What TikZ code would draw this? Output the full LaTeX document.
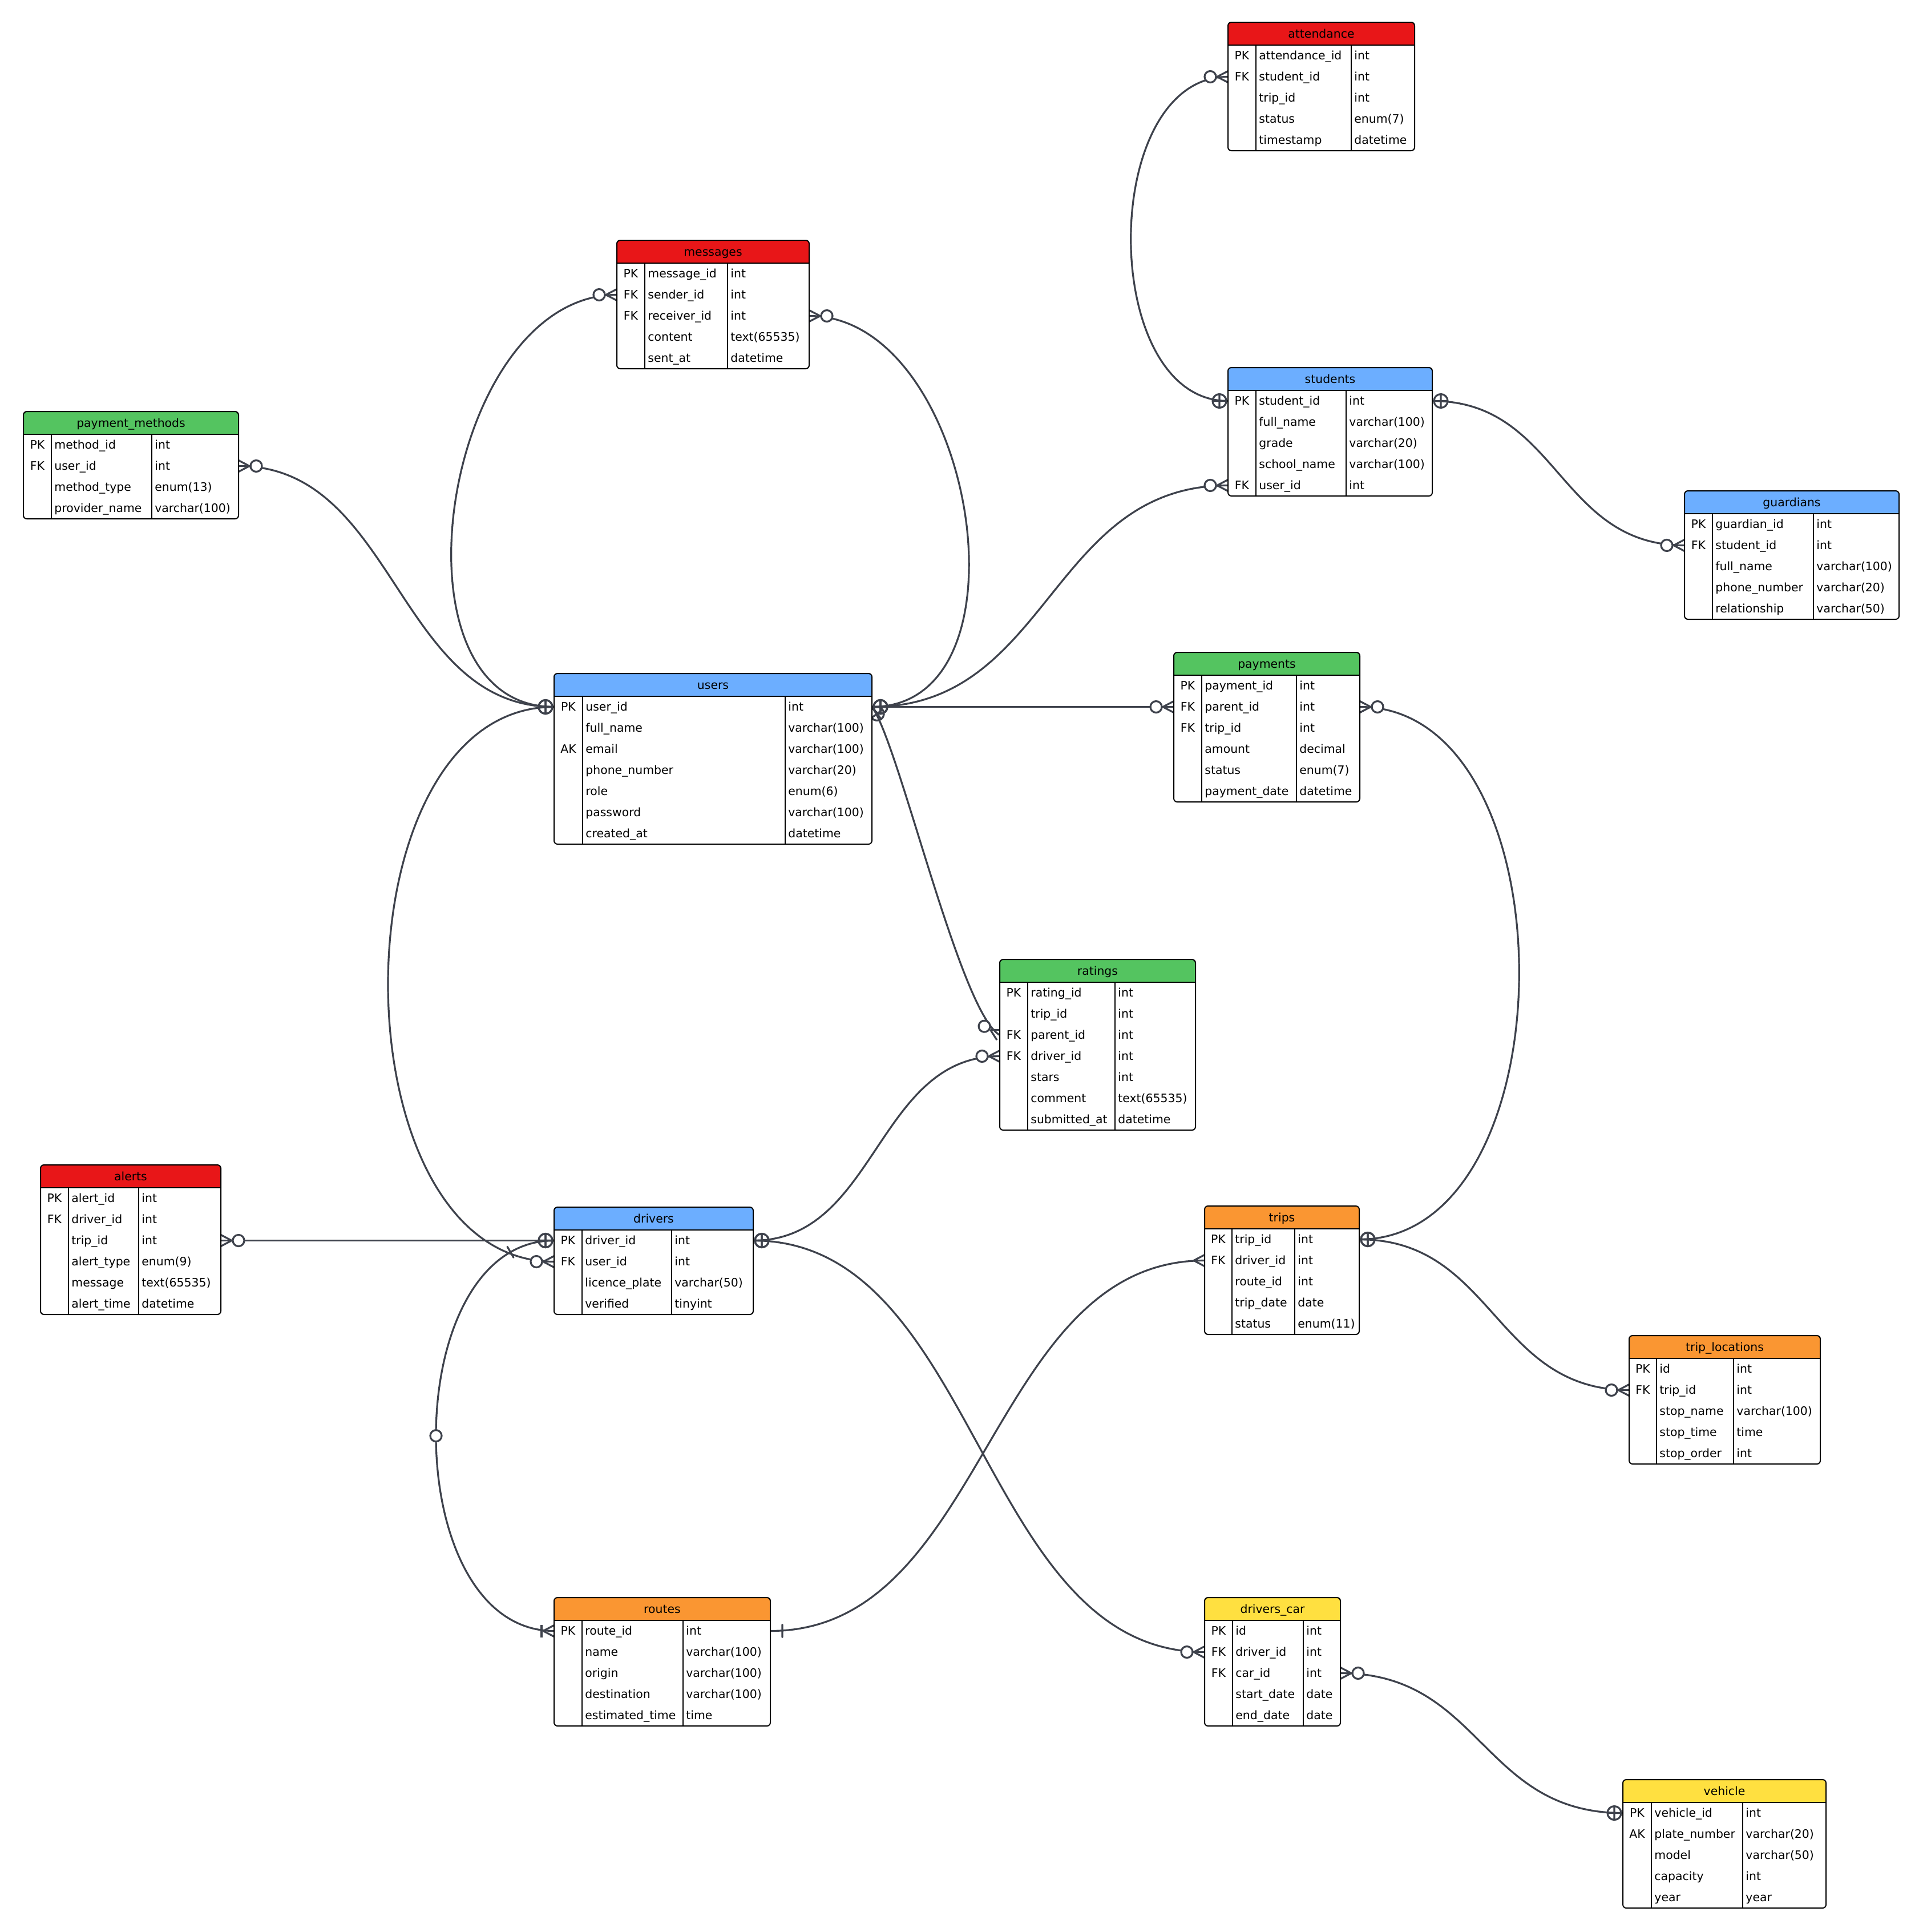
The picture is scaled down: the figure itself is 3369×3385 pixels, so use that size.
\documentclass[tikz,border=0pt]{standalone}
\usepackage{fontspec}
\setmainfont{DejaVu Sans}
\usetikzlibrary{decorations.markings}
\definecolor{lc}{RGB}{62,66,76}
\definecolor{hblue}{RGB}{108,174,255}
\definecolor{hred}{RGB}{232,22,24}
\definecolor{hgreen}{RGB}{84,196,96}
\definecolor{horange}{RGB}{250,150,50}
\definecolor{hyellow}{RGB}{255,224,64}
\pgfdeclarelayer{back}
\pgfdeclarelayer{bg}
\pgfsetlayers{back,bg,main}

% connector end markers (local x axis points away from the table)
\newcommand\mkZM{\draw[lc,line width=1.6pt] (9.5pt,0pt) -- (0pt,5pt) (9.5pt,0pt) -- (0pt,-5pt);
  \draw[lc,line width=1.6pt,fill=white] (15.5pt,0pt) circle (5pt);}
\newcommand\mkOB{\draw[lc,line width=1.6pt] (7.5pt,0pt) circle (6pt) (7.5pt,-6pt) -- (7.5pt,6pt) (0pt,0pt) -- (13.5pt,0pt);}
\newcommand\mkONE{\draw[lc,line width=1.6pt] (10.5pt,-5.5pt) -- (10.5pt,5.5pt);}
\newcommand\mkMANY{\draw[lc,line width=1.6pt] (9.5pt,0pt) -- (0pt,5pt) (9.5pt,0pt) -- (0pt,-5pt);}
\newcommand\mkOM{\mkMANY\draw[lc,line width=1.6pt] (11pt,-5.5pt) -- (11pt,5.5pt);}
% marker placed at a named point, turned by an angle (0 = away to the right)
\newcommand\mkat[3]{\begin{scope}[shift={(#1)},rotate=#2]#3\end{scope}}

\tikzset{
  tabbox/.style={fill=white, draw=none, inner sep=0pt, outer sep=0pt, anchor=north west},
  tabline/.style={draw=black, line width=1pt},
  txt/.style={inner sep=0pt, font=\fontsize{10.2pt}{12pt}\selectfont},
  conn/.style={draw=lc, line width=1.6pt, line cap=round},
  tipA/.style={postaction={decorate,decoration={markings,mark=at position 0 with {#1}}}},
}

% #1 name, #2 x, #3 y, #4 #5 #6 column widths, #7 colour, #8 title, #9 rows
\newcommand\erdtab[9]{%
  \foreach \k/\f/\t [count=\i] in {#9} {\xdef\tbN{\i}}%
  \pgfmathsetmacro\tbA{#2+#4}%
  \pgfmathsetmacro\tbB{#2+#4+#5}%
  \pgfmathsetmacro\tbR{#2+#4+#5+#6}%
  \pgfmathsetmacro\tbW{#4+#5+#6}%
  \pgfmathsetmacro\tbH{40+37*\tbN}%
  \pgfmathsetmacro\tbBot{#3+\tbH}%
  \node[tabbox, minimum width=\tbW*0.5pt, minimum height=\tbH*0.5pt] (#1) at (#2,#3) {};
  \begin{scope}
    \clip[rounded corners=3pt] (#1.north west) rectangle (#1.south east);
    \fill[#7] (#2,#3) rectangle (\tbR,#3+40);
  \end{scope}
  \draw[tabline] (#2,#3+40) -- (\tbR,#3+40);
  \draw[tabline] (\tbA,#3+40) -- (\tbA,\tbBot);
  \draw[tabline] (\tbB,#3+40) -- (\tbB,\tbBot);
  \draw[tabline, rounded corners=3pt] (#1.north west) rectangle (#1.south east);
  \node[txt, anchor=base] (#1-title) at ({#2+\tbW/2},#3+27) {#8};
  \foreach \k/\f/\t [count=\i] in {#9} {
    \pgfmathsetmacro\ry{#3+40+37*(\i-0.5)}
    \node[txt, anchor=base] (#1-\i-k) at ({#2+#4/2},\ry+7) {\k};
    \node[txt, anchor=base west] (#1-\i-f) at (\tbA+5,\ry+7) {\f};
    \node[txt, anchor=base west] (#1-\i-t) at (\tbB+5,\ry+7) {\t};
    \coordinate (#1-\i-l) at (#2,\ry);
    \coordinate (#1-\i-r) at (\tbR,\ry);
  }
}

\begin{document}
\begin{tikzpicture}[x=0.5pt,y=-0.5pt]
\begin{pgfonlayer}{back}
\fill[white] (0,0) rectangle (3369,3385);
\end{pgfonlayer}
\useasboundingbox (0,0) rectangle (3369,3385);

\erdtab{attendance}{2152}{39}{49}{167}{111}{hred}{attendance}{PK/attendance\_id/int, FK/student\_id/int, {}/trip\_id/int, {}/status/enum(7), {}/timestamp/datetime}
\erdtab{messages}{1081}{421}{49}{145}{143}{hred}{messages}{PK/message\_id/int, FK/sender\_id/int, FK/receiver\_id/int, {}/content/text(65535), {}/sent\_at/datetime}
\erdtab{paym}{41}{721}{49}{176}{152}{hgreen}{payment\_methods}{PK/method\_id/int, FK/user\_id/int, {}/method\_type/enum(13), {}/provider\_name/varchar(100)}
\erdtab{students}{2152}{644}{49}{158}{151}{hblue}{students}{PK/student\_id/int, {}/full\_name/varchar(100), {}/grade/varchar(20), {}/school\_name/varchar(100), FK/user\_id/int}
\erdtab{guardians}{2952}{860}{49}{177}{150}{hblue}{guardians}{PK/guardian\_id/int, FK/student\_id/int, {}/full\_name/varchar(100), {}/phone\_number/varchar(20), {}/relationship/varchar(50)}
\erdtab{users}{971}{1180}{50}{355}{152}{hblue}{users}{PK/user\_id/int, {}/full\_name/varchar(100), AK/email/varchar(100), {}/phone\_number/varchar(20), {}/role/enum(6), {}/password/varchar(100), {}/created\_at/datetime}
\erdtab{payments}{2057}{1143}{49}{166}{111}{hgreen}{payments}{PK/payment\_id/int, FK/parent\_id/int, FK/trip\_id/int, {}/amount/decimal, {}/status/enum(7), {}/payment\_date/datetime}
\erdtab{ratings}{1752}{1681}{49}{153}{141}{hgreen}{ratings}{PK/rating\_id/int, {}/trip\_id/int, FK/parent\_id/int, FK/driver\_id/int, {}/stars/int, {}/comment/text(65535), {}/submitted\_at/datetime}
\erdtab{alerts}{71}{2041}{49}{123}{144}{hred}{alerts}{PK/alert\_id/int, FK/driver\_id/int, {}/trip\_id/int, {}/alert\_type/enum(9), {}/message/text(65535), {}/alert\_time/datetime}
\erdtab{drivers}{971}{2115}{49}{157}{143}{hblue}{drivers}{PK/driver\_id/int, FK/user\_id/int, {}/licence\_plate/varchar(50), {}/verified/tinyint}
\erdtab{trips}{2111}{2113}{48}{110}{113}{horange}{trips}{PK/trip\_id/int, FK/driver\_id/int, {}/route\_id/int, {}/trip\_date/date, {}/status/enum(11)}
\erdtab{tloc}{2855}{2340}{48}{135}{152}{horange}{trip\_locations}{PK/id/int, FK/trip\_id/int, {}/stop\_name/varchar(100), {}/stop\_time/time, {}/stop\_order/int}
\erdtab{routes}{971}{2799}{49}{177}{153}{horange}{routes}{PK/route\_id/int, {}/name/varchar(100), {}/origin/varchar(100), {}/destination/varchar(100), {}/estimated\_time/time}
\erdtab{dcar}{2111}{2799}{49}{124}{65}{hyellow}{drivers\_car}{PK/id/int, FK/driver\_id/int, FK/car\_id/int, {}/start\_date/date, {}/end\_date/date}
\erdtab{vehicle}{2844}{3118}{50}{160}{146}{hyellow}{vehicle}{PK/vehicle\_id/int, AK/plate\_number/varchar(20), {}/model/varchar(50), {}/capacity/int, {}/year/year}

\begin{pgfonlayer}{bg}
\draw[conn, tipA=\mkZM] (attendance-2-l) .. controls +(-227,0) and +(-227,0) .. (students-1-l);
\draw[conn, tipA=\mkOB] (users-1-r) .. controls +(312,0) and +(-312,0) .. (students-5-l);
\draw[conn, tipA=\mkOB] (users-1-r) -- (payments-2-l);
\draw[conn, tipA=\mkZM] (messages-3-r) .. controls +(290,0) and +(290,0) .. (users-1-r);
\draw[conn, tipA=\mkZM] (messages-2-l) .. controls +(-304,0) and +(-304,0) .. (users-1-l);
\draw[conn, tipA=\mkZM] (paym-2-r) .. controls +(276,0) and +(-276,0) .. (users-1-l);
\draw[conn, tipA=\mkOB] (users-1-l) .. controls +(-388,0) and +(-388,0) .. (drivers-2-l);
\draw[conn, tipA=\mkOB] (users-1-r) .. controls +(47,62) and +(-70,-40) .. (ratings-3-l);
\draw[conn, tipA=\mkZM] (alerts-3-r) -- (drivers-1-l);
\draw[conn, tipA=\mkOB] (drivers-1-r) .. controls +(216,0) and +(-216,0) .. (ratings-4-l);
\draw[conn, tipA=\mkOB] (drivers-1-r) .. controls +(396,0) and +(-396,0) .. (dcar-2-l);
\draw[conn, tipA=\mkZM] (payments-2-r) .. controls +(373,0) and +(373,0) .. (trips-1-r);
\draw[conn, tipA=\mkOB] (trips-1-r) .. controls +(236,0) and +(-236,0) .. (tloc-2-l);
\draw[conn, tipA=\mkONE] (routes-1-r) .. controls +(380,0) and +(-380,0) .. (trips-2-l);
\draw[conn, tipA=\mkOB,
  postaction={decorate,decoration={markings,
    mark=at position 40pt with {\draw[lc,line width=1.6pt] (0pt,-5.5pt) -- (0pt,5.5pt);},
    mark=at position 0.5 with {\draw[lc,line width=1.6pt,fill=white] (0pt,0pt) circle (5pt);}}}]
  (drivers-1-l) .. controls +(-276,0) and +(-276,0) .. (routes-1-l);
\draw[conn, tipA=\mkZM] (dcar-3-r) .. controls +(248,0) and +(-248,0) .. (vehicle-1-l);
\draw[conn, tipA=\mkOB] (students-1-r) .. controls +(221,0) and +(-221,0) .. (guardians-2-l);
% end markers
\mkat{students-1-l}{180}{\mkOB}
\mkat{students-5-l}{180}{\mkZM}
\mkat{payments-2-l}{180}{\mkZM}
\mkat{users-1-r}{0}{\mkOB}
\mkat{users-1-l}{180}{\mkOB}
\mkat{drivers-2-l}{180}{\mkZM}
\mkat{ratings-3-l}{150.3}{\mkZM}
\mkat{drivers-1-l}{180}{\mkOB}
\mkat{ratings-4-l}{180}{\mkZM}
\mkat{dcar-2-l}{180}{\mkZM}
\mkat{trips-1-r}{0}{\mkOB}
\mkat{tloc-2-l}{180}{\mkZM}
\mkat{trips-2-l}{180}{\mkMANY}
\mkat{routes-1-l}{180}{\mkOM}
\mkat{vehicle-1-l}{180}{\mkOB}
\mkat{guardians-2-l}{180}{\mkZM}
\end{pgfonlayer}
\end{tikzpicture}
\end{document}
